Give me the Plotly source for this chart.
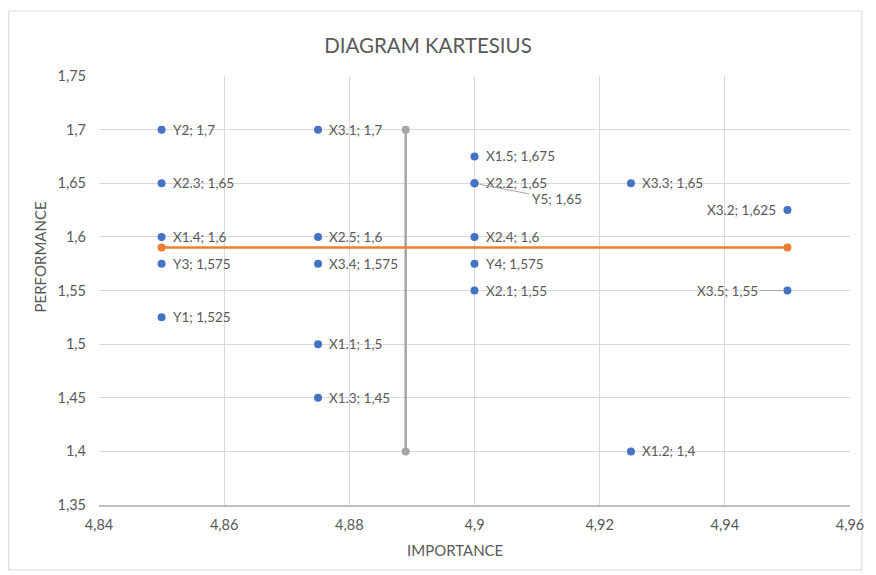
import plotly.graph_objects as go

# ---- data ----
names = ["Y2", "X3.1", "X1.5", "X2.3", "X2.2", "Y5", "X3.3", "X3.2", "X1.4", "X2.5",
         "X2.4", "Y3", "X3.4", "Y4", "X2.1", "X3.5", "Y1", "X1.1", "X1.3", "X1.2"]
importance = [4.85, 4.875, 4.9, 4.85, 4.9, 4.9, 4.925, 4.95, 4.85, 4.875,
              4.9, 4.85, 4.875, 4.9, 4.9, 4.95, 4.85, 4.875, 4.875, 4.925]
performance = [1.7, 1.7, 1.675, 1.65, 1.65, 1.65, 1.65, 1.625, 1.6, 1.6,
               1.6, 1.575, 1.575, 1.575, 1.55, 1.55, 1.525, 1.5, 1.45, 1.4]

mean_perf_x = [4.85, 4.95]
mean_perf_y = [1.59, 1.59]
mean_imp_x = [4.889, 4.889]
mean_imp_y = [1.4, 1.7]

x_tickvals = [4.84, 4.86, 4.88, 4.9, 4.92, 4.94, 4.96]
x_ticktext = ["4,84", "4,86", "4,88", "4,9", "4,92", "4,94", "4,96"]
y_tickvals = [1.35, 1.4, 1.45, 1.5, 1.55, 1.6, 1.65, 1.7, 1.75]
y_ticktext = ["1,35", "1,4", "1,45", "1,5", "1,55", "1,6", "1,65", "1,7", "1,75"]

# label placement (style, not data)
left_labels = {"X3.2"}
arrow_labels = {"Y5": (82, 16), "X3.5": (-60, 0)}

FONT = "Lato, 'Open Sans', sans-serif"
TXT = "#595959"
LBL = 13.5

# page has an 8px body margin: figure is 868x567 placed at (8, 8)
W, H = 868, 567
L, R, T, B = 91, 20, 68, 70
PW, PH = W - L - R, H - T - B


def px_x(p):
    return (p - 8 - L) / PW


def px_y(p):
    return (H - B - (p - 8)) / PH


def fmt(v):
    s = ("%.3f" % v).rstrip("0").rstrip(".")
    return s.replace(".", ",")


fig = go.Figure()
fig.add_trace(go.Scatter(x=mean_imp_x, y=mean_imp_y, mode="lines+markers",
                         line=dict(color="#A5A5A5", width=2.5),
                         marker=dict(color="#A5A5A5", size=8), hoverinfo="skip"))
fig.add_trace(go.Scatter(x=mean_perf_x, y=mean_perf_y, mode="lines+markers",
                         line=dict(color="#ED7D31", width=2.5),
                         marker=dict(color="#ED7D31", size=8), hoverinfo="skip"))
fig.add_trace(go.Scatter(x=importance, y=performance, mode="markers",
                         marker=dict(color="#4472C4", size=8),
                         text=names))

annotations = []
for n, xv, yv in zip(names, importance, performance):
    label = f"{n}; {fmt(yv)}"
    f = dict(family=FONT, size=LBL, color=TXT)
    if n in arrow_labels:
        ax, ay = arrow_labels[n]
        annotations.append(dict(x=xv, y=yv, xref="x", yref="y", text=label,
                                showarrow=True, arrowhead=0, arrowwidth=1,
                                arrowcolor="#A6A6A6", ax=ax, ay=ay,
                                standoff=5, startstandoff=1, font=f))
    elif n in left_labels:
        annotations.append(dict(x=xv, y=yv, xref="x", yref="y", text=label,
                                showarrow=False, xanchor="right", xshift=-9, font=f))
    else:
        annotations.append(dict(x=xv, y=yv, xref="x", yref="y", text=label,
                                showarrow=False, xanchor="left", xshift=9, font=f))

# axis titles
annotations.append(dict(text="IMPORTANCE", xref="paper", yref="paper",
                        x=px_x(458), y=px_y(550), xanchor="center", yanchor="middle",
                        showarrow=False, font=dict(family=FONT, size=15, color=TXT)))
annotations.append(dict(text="PERFORMANCE", xref="paper", yref="paper",
                        x=px_x(40), y=px_y(257), xanchor="center", yanchor="middle",
                        textangle=-90, showarrow=False,
                        font=dict(family=FONT, size=15, color=TXT)))

fig.update_layout(
    width=W, height=H,
    margin=dict(l=L, r=R, t=T, b=B),
    paper_bgcolor="white", plot_bgcolor="white",
    showlegend=False,
    font=dict(family=FONT, color=TXT, size=12),
    title=dict(text="DIAGRAM KARTESIUS", x=(428 - 8) / W, xanchor="center",
               y=1 - (46 - 8) / H, yanchor="middle", yref="container",
               font=dict(family=FONT, size=20.5, color=TXT)),
    xaxis=dict(range=[4.84, 4.96], tickvals=x_tickvals, ticktext=x_ticktext,
               showgrid=True, gridcolor="#D9D9D9", gridwidth=1,
               zeroline=False, showline=True, linecolor="#BFBFBF", linewidth=1.5,
               ticks="", ticklabelstandoff=6,
               tickfont=dict(size=14.5, color=TXT)),
    yaxis=dict(range=[1.35, 1.75], tickvals=y_tickvals, ticktext=y_ticktext,
               showgrid=True, gridcolor="#D9D9D9", gridwidth=1,
               zeroline=False, showline=False, ticks="", ticklabelstandoff=12,
               tickfont=dict(size=14.5, color=TXT)),
    annotations=annotations,
    shapes=[dict(type="rect", xref="paper", yref="paper",
                 x0=px_x(8), x1=px_x(868), y0=px_y(570), y1=px_y(11),
                 line=dict(color="#D9D9D9", width=1), fillcolor="rgba(0,0,0,0)",
                 layer="below")],
)

fig.write_html("out.html")
